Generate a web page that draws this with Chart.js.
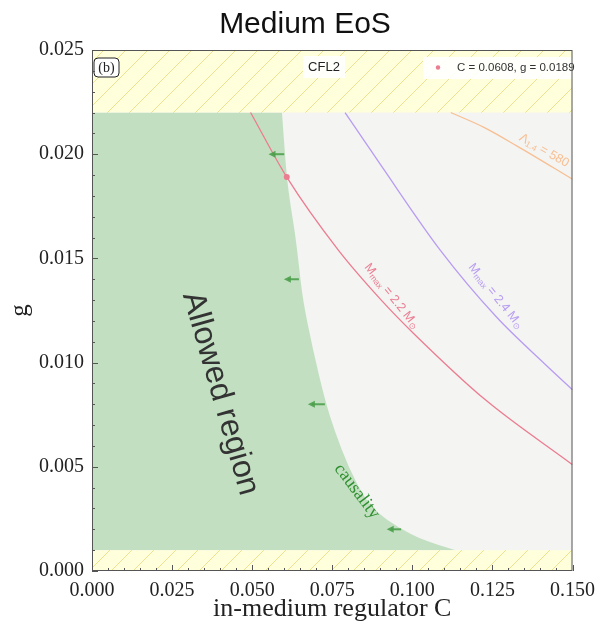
<!DOCTYPE html>
<html>
<head>
<meta charset="utf-8">
<script src="https://cdn.jsdelivr.net/npm/chart.js@4.4.1/dist/chart.umd.min.js"></script>
<style>
  html, body { margin: 0; padding: 0; background: #fff; }
  #wrap { width: 603px; height: 631px; position: relative; }
</style>
</head>
<body>
<div id="wrap"><canvas id="chart" width="603" height="631"></canvas></div>
<script>
// --- values (C = in-medium regulator, g = coupling) ---
const causalityC = [0.0593, 0.0600, 0.0608, 0.0620, 0.0634, 0.0645, 0.0658, 0.0690, 0.0727, 0.0758, 0.0800, 0.0851, 0.0890, 0.0955, 0.1030, 0.1135];
const causalityG = [0.0220, 0.0205, 0.0189, 0.0175, 0.0162, 0.0148, 0.0130, 0.0106, 0.0082, 0.0067, 0.0050, 0.0035, 0.0028, 0.0021, 0.0015, 0.0010];

const mmax22C = [0.0495, 0.0608, 0.0769, 0.0903, 0.1004, 0.1229, 0.1500];
const mmax22G = [0.0220, 0.0189, 0.0154, 0.0130, 0.0114, 0.0082, 0.0051];

const mmax24C = [0.0790, 0.0905, 0.1087, 0.1262, 0.1416, 0.1500];
const mmax24G = [0.0220, 0.0194, 0.0154, 0.0122, 0.0099, 0.0087];

const lambdaC = [0.1120, 0.1222, 0.1326, 0.1500];
const lambdaG = [0.0220, 0.0213, 0.0204, 0.0188];

const pointC = [0.0608];
const pointG = [0.0189];

const forbiddenTop = [0.022, 0.025];
const forbiddenBottom = [0.000, 0.001];

// arrows pointing into the allowed region
const arrowG = [0.0200, 0.0140, 0.0080, 0.0020];
const arrowTailC = [0.0600, 0.0646, 0.0727, 0.0965];
const arrowTipC = [0.0551, 0.0599, 0.0674, 0.0920];

const xTicks = [0, 0.025, 0.05, 0.075, 0.1, 0.125, 0.15];
const xTickLabels = ['0.000', '0.025', '0.050', '0.075', '0.100', '0.125', '0.150'];
const yTicks = [0, 0.005, 0.01, 0.015, 0.02, 0.025];
const yTickLabels = ['0.000', '0.005', '0.010', '0.015', '0.020', '0.025'];

const SERIF = '"Liberation Serif", "DejaVu Serif", serif';
const SANS = '"Liberation Sans", Arial, sans-serif';

const GREEN_FILL = '#c2e0c1';
const GREY_FILL = '#f4f4f3';
const RED = '#ec7c90';
const PURPLE = '#b89cf2';
const ORANGE = '#f7bf92';

// hatch pattern for the excluded bands
function makeHatch() {
  const s = 22;
  const c = document.createElement('canvas');
  c.width = s; c.height = s;
  const p = c.getContext('2d');
  p.fillStyle = '#ffffdc';
  p.fillRect(0, 0, s, s);
  p.strokeStyle = 'rgba(232, 214, 120, 0.75)';
  p.lineWidth = 1;
  p.beginPath();
  p.moveTo(0, s); p.lineTo(s, 0);
  p.moveTo(-2, 2); p.lineTo(2, -2);
  p.moveTo(s - 2, s + 2); p.lineTo(s + 2, s - 2);
  p.stroke();
  return p.createPattern(c, 'repeat');
}

function pixelPoints(cs, gs, x, y) {
  return cs.map((c, i) => ({ x: x.getPixelForValue(c), y: y.getPixelForValue(gs[i]) }));
}

// draws a run of text pieces (for subscripts) centred at (cx, cy), rotated by deg
function drawRich(ctx, parts, cx, cy, deg, color) {
  ctx.save();
  ctx.fillStyle = color;
  ctx.textBaseline = 'alphabetic';
  ctx.textAlign = 'left';
  let total = 0;
  parts.forEach(p => { ctx.font = p.font; p.w = ctx.measureText(p.t).width; total += p.w; });
  ctx.translate(cx, cy);
  ctx.rotate(deg * Math.PI / 180);
  let xx = -total / 2;
  parts.forEach(p => {
    ctx.font = p.font;
    ctx.fillText(p.t, xx, 4 + (p.dy || 0));
    xx += p.w;
  });
  ctx.restore();
}

function roundRect(ctx, x, y, w, h, r) {
  ctx.beginPath();
  ctx.moveTo(x + r, y);
  ctx.arcTo(x + w, y, x + w, y + h, r);
  ctx.arcTo(x + w, y + h, x, y + h, r);
  ctx.arcTo(x, y + h, x, y, r);
  ctx.arcTo(x, y, x + w, y, r);
  ctx.closePath();
}

const regionsPlugin = {
  id: 'regions',
  beforeDatasetsDraw(chart) {
    const { ctx, chartArea: a, scales: { x, y } } = chart;
    ctx.save();
    ctx.beginPath();
    ctx.rect(a.left, a.top, a.width, a.height);
    ctx.clip();

    ctx.fillStyle = GREY_FILL;
    ctx.fillRect(a.left, a.top, a.width, a.height);

    // allowed region: left of the causality curve
    const pts = pixelPoints(causalityC, causalityG, x, y);
    ctx.beginPath();
    ctx.moveTo(x.getPixelForValue(0), y.getPixelForValue(causalityG[0]));
    ctx.lineTo(pts[0].x, pts[0].y);
    for (let i = 1; i < pts.length - 1; i++) {
      const mx = (pts[i].x + pts[i + 1].x) / 2;
      const my = (pts[i].y + pts[i + 1].y) / 2;
      ctx.quadraticCurveTo(pts[i].x, pts[i].y, mx, my);
    }
    const last = pts[pts.length - 1];
    ctx.lineTo(last.x, last.y);
    ctx.lineTo(x.getPixelForValue(0), last.y);
    ctx.closePath();
    ctx.fillStyle = GREEN_FILL;
    ctx.fill();

    // excluded bands
    const hatch = makeHatch();
    ctx.fillStyle = hatch;
    [forbiddenTop, forbiddenBottom].forEach(b => {
      const yTop = y.getPixelForValue(b[1]);
      const yBot = y.getPixelForValue(b[0]);
      ctx.fillRect(a.left, yTop, a.width, yBot - yTop);
    });
    ctx.restore();
  },
  afterDatasetsDraw(chart) {
    const { ctx, chartArea: a, scales: { x, y } } = chart;
    const px = v => x.getPixelForValue(v);
    const py = v => y.getPixelForValue(v);

    // arrows
    ctx.save();
    ctx.strokeStyle = 'rgba(76, 160, 76, 0.9)';
    ctx.fillStyle = 'rgba(76, 160, 76, 0.9)';
    ctx.lineWidth = 2;
    arrowG.forEach((g, i) => {
      const x0 = px(arrowTailC[i]), x1 = px(arrowTipC[i]), yy = py(g);
      ctx.beginPath();
      ctx.moveTo(x0, yy); ctx.lineTo(x1 + 4, yy);
      ctx.stroke();
      ctx.beginPath();
      ctx.moveTo(x1, yy); ctx.lineTo(x1 + 7, yy - 3.5); ctx.lineTo(x1 + 7, yy + 3.5);
      ctx.closePath();
      ctx.fill();
    });
    ctx.restore();

    // curve and region labels
    const big = '12.5px ' + SANS, small = '8.5px ' + SANS;
    drawRich(ctx, [
      { t: 'M', font: big }, { t: 'max', font: small, dy: 2 },
      { t: ' = 2.2 M', font: big }, { t: '\u2299', font: small, dy: 2 }
    ], px(0.0937), py(0.0132), 51, RED);
    drawRich(ctx, [
      { t: 'M', font: big }, { t: 'max', font: small, dy: 2 },
      { t: ' = 2.4 M', font: big }, { t: '\u2299', font: small, dy: 2 }
    ], px(0.1262), py(0.0132), 51, PURPLE);
    drawRich(ctx, [
      { t: '\u039B', font: big }, { t: '1.4', font: small, dy: 2 },
      { t: ' = 580', font: big }
    ], px(0.1412), py(0.0202), 30, ORANGE);
    drawRich(ctx, [{ t: 'Allowed region', font: '32px ' + SANS }], px(0.0386), py(0.00845), 74, '#333333');
    drawRich(ctx, [{ t: 'causality', font: '18px ' + SERIF }], px(0.0825), py(0.0038), 53, '#2f8f2f');

    // panel tag
    ctx.save();
    roundRect(ctx, a.left + 2, a.top + 8, 25, 19, 4);
    ctx.fillStyle = '#ffffff';
    ctx.fill();
    ctx.strokeStyle = '#222';
    ctx.lineWidth = 1;
    ctx.stroke();
    ctx.fillStyle = '#222';
    ctx.font = '14px ' + SERIF;
    ctx.textAlign = 'center';
    ctx.textBaseline = 'middle';
    ctx.fillText('(b)', a.left + 14.5, a.top + 18);

    // model name
    ctx.fillStyle = 'rgba(255,255,255,0.9)';
    ctx.fillRect(a.left + 211, a.top + 6, 42, 22);
    ctx.fillStyle = '#222';
    ctx.font = '13px ' + SANS;
    ctx.fillText('CFL2', a.left + 232, a.top + 17);

    // legend
    ctx.fillStyle = 'rgba(255,255,255,0.9)';
    roundRect(ctx, a.left + 331, a.top + 7, 149, 22, 2);
    ctx.fill();
    ctx.fillStyle = RED;
    ctx.beginPath();
    ctx.arc(a.left + 346, a.top + 17.5, 2.2, 0, Math.PI * 2);
    ctx.fill();
    ctx.fillStyle = '#333';
    ctx.font = '11.5px ' + SANS;
    ctx.textAlign = 'left';
    ctx.fillText('C = 0.0608, g = 0.0189', a.left + 365, a.top + 17.5);
    ctx.restore();

    // frame and inward ticks
    ctx.save();
    ctx.strokeStyle = '#555';
    ctx.lineWidth = 1;
    ctx.strokeRect(a.left + 0.5, a.top + 0.5, a.width - 1, a.height - 1);
    ctx.beginPath();
    for (let k = 0; k <= 30; k++) {
      const xx = Math.round(px(k * 0.005)) + 0.5;
      const len = k % 5 === 0 ? 6 : 3;
      ctx.moveTo(xx, a.bottom); ctx.lineTo(xx, a.bottom - len);
    }
    for (let k = 0; k <= 25; k++) {
      const yy = Math.round(py(k * 0.001)) + 0.5;
      const len = k % 5 === 0 ? 6 : 3;
      ctx.moveTo(a.left, yy); ctx.lineTo(a.left + len, yy);
    }
    ctx.stroke();
    ctx.restore();
  },
  afterDraw(chart) {
    const { ctx } = chart;
    ctx.save();
    ctx.fillStyle = '#111';
    ctx.font = '30px ' + SANS;
    ctx.textAlign = 'center';
    ctx.textBaseline = 'middle';
    ctx.fillText('Medium EoS', 305, 25);
    ctx.restore();
  }
};

const lineDs = (label, cs, gs, color) => ({
  label,
  data: cs.map((c, i) => ({ x: c, y: gs[i] })),
  showLine: true,
  borderColor: color,
  borderWidth: 1.3,
  pointRadius: 0,
  cubicInterpolationMode: 'monotone',
  fill: false
});

new Chart(document.getElementById('chart'), {
  type: 'scatter',
  data: {
    datasets: [
      lineDs('Mmax = 2.2', mmax22C, mmax22G, RED),
      lineDs('Mmax = 2.4', mmax24C, mmax24G, PURPLE),
      lineDs('Lambda = 580', lambdaC, lambdaG, ORANGE),
      {
        label: 'C = 0.0608, g = 0.0189',
        data: pointC.map((c, i) => ({ x: c, y: pointG[i] })),
        pointRadius: 3,
        pointBackgroundColor: RED,
        pointBorderWidth: 0
      }
    ]
  },
  options: {
    responsive: false,
    animation: false,
    devicePixelRatio: 1,
    layout: { padding: { top: 50, right: 26, left: 0, bottom: 0 } },
    plugins: {
      legend: { display: false },
      title: { display: false },
      tooltip: { enabled: false }
    },
    scales: {
      x: {
        type: 'linear',
        min: 0,
        max: 0.15,
        grid: { display: false, drawTicks: false },
        border: { display: false },
        afterBuildTicks: s => { s.ticks = xTicks.map(v => ({ value: v })); },
        afterFit: s => { s.height = 60; },
        ticks: {
          autoSkip: false,
          maxRotation: 0,
          padding: 8,
          color: '#222',
          font: { family: SERIF, size: 20 },
          callback: (v, i) => xTickLabels[i]
        },
        title: {
          display: true,
          text: 'in-medium regulator C',
          color: '#222',
          font: { family: SERIF, size: 26 },
          padding: { top: 0, bottom: 6 }
        }
      },
      y: {
        type: 'linear',
        min: 0,
        max: 0.025,
        grid: { display: false, drawTicks: false },
        border: { display: false },
        afterBuildTicks: s => { s.ticks = yTicks.map(v => ({ value: v })); },
        afterFit: s => { s.width = 92; },
        ticks: {
          autoSkip: false,
          padding: 8,
          color: '#222',
          font: { family: SERIF, size: 20 },
          callback: (v, i) => yTickLabels[i]
        },
        title: {
          display: true,
          text: 'g',
          color: '#222',
          font: { family: SERIF, size: 25 },
          padding: { top: 5, bottom: 0 }
        }
      }
    }
  },
  plugins: [regionsPlugin]
});
</script>
</body>
</html>
